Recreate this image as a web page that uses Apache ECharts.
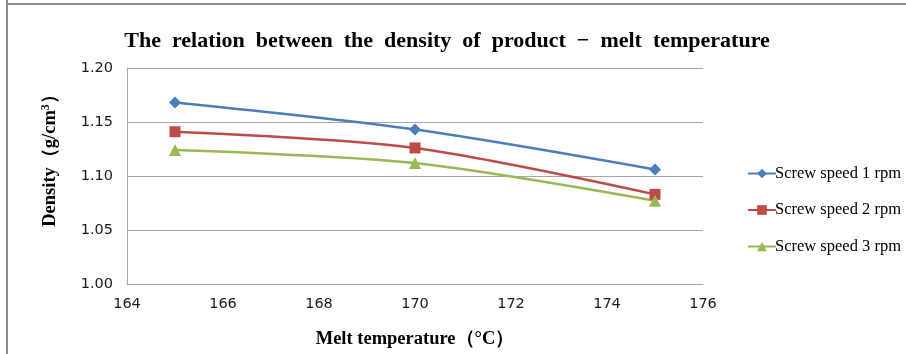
<!DOCTYPE html>
<html><head><meta charset="utf-8">
<script src="https://cdn.jsdelivr.net/npm/echarts@6/dist/echarts.min.js"></script>
<style>html,body{margin:0;padding:0;background:#fff}#c{width:906px;height:354px}</style>
</head><body><div id="c"></div>
<script>
const temps = [165, 170, 175];
const speed1 = [1.168, 1.143, 1.106];
const speed2 = [1.141, 1.126, 1.083];
const speed3 = [1.124, 1.112, 1.077];
const seriesNames = ['Screw speed 1 rpm', 'Screw speed 2 rpm', 'Screw speed 3 rpm'];
const titleText = 'The  relation  between  the  density  of  product  −  melt  temperature';
const xName = 'Melt temperature（°C）';

const colors = ['#4a7ebb', '#be4b48', '#98b954'];
const symbols = ['diamond', 'rect', 'triangle'];
const sizes = [12, 11, 12];
const all = [speed1, speed2, speed3];

const chart = echarts.init(document.getElementById('c'));
chart.setOption({
  animation: false,
  backgroundColor: '#fff',
  graphic: [
    {type: 'line', shape: {x1: 7, y1: 0, x2: 7, y2: 354}, style: {stroke: '#8c8c8c', lineWidth: 2}},
    {type: 'line', shape: {x1: 7, y1: 4, x2: 906, y2: 4}, style: {stroke: '#8c8c8c', lineWidth: 2}}
  ],
  title: {
    text: titleText, left: 442, top: 25, textAlign: 'center',
    textStyle: {fontFamily: 'Liberation Serif', fontWeight: 'bold', fontSize: 22, color: '#000'}
  },
  grid: {left: 127, right: 203, top: 68, bottom: 69},
  legend: {
    orient: 'vertical', left: 742, top: 160, itemWidth: 28, itemHeight: 12, itemGap: 19.5,
    data: seriesNames,
    textStyle: {fontFamily: 'Liberation Serif', fontSize: 16.5, color: '#000', padding: [0, 0, 0, -6]}
  },
  xAxis: {
    type: 'value', min: 164, max: 176, interval: 2,
    name: xName, nameLocation: 'middle', nameGap: 46,
    nameTextStyle: {fontFamily: 'Liberation Serif', fontWeight: 'bold', fontSize: 18.5, color: '#000'},
    axisLine: {show: true, lineStyle: {color: '#a6a6a6', width: 1}},
    axisTick: {show: false},
    splitLine: {show: false},
    axisLabel: {fontFamily: 'DejaVu Sans', fontSize: 14.5, color: '#1a1a1a', margin: 13}
  },
  yAxis: {
    type: 'value', min: 1.00, max: 1.20, interval: 0.05,
    name: '{a|Density（g/cm}{s|3}{a|）}', nameLocation: 'middle', nameGap: 66, nameRotate: 90,
    nameTextStyle: {padding: [0, 0, 0, 40], rich: {
      a: {fontFamily: 'Liberation Serif', fontWeight: 'bold', fontSize: 18.5, color: '#000'},
      s: {fontFamily: 'Liberation Serif', fontWeight: 'bold', fontSize: 12, color: '#000', verticalAlign: 'top', padding: [0, 0, 9, 0]}
    }},
    axisLine: {show: true, lineStyle: {color: '#a6a6a6', width: 1}},
    axisTick: {show: false},
    splitLine: {show: true, lineStyle: {color: '#a6a6a6', width: 1}},
    axisLabel: {fontFamily: 'DejaVu Sans', fontSize: 14.5, color: '#1a1a1a', margin: 14,
      formatter: v => v.toFixed(2)}
  },
  series: all.map((arr, i) => ({
    name: seriesNames[i], type: 'line', smooth: 0.3,
    data: temps.map((t, j) => [t, arr[j]]),
    symbol: symbols[i], symbolSize: sizes[i], showSymbol: true,
    lineStyle: {color: colors[i], width: 2.5},
    itemStyle: {color: colors[i]}
  }))
});
</script></body></html>
